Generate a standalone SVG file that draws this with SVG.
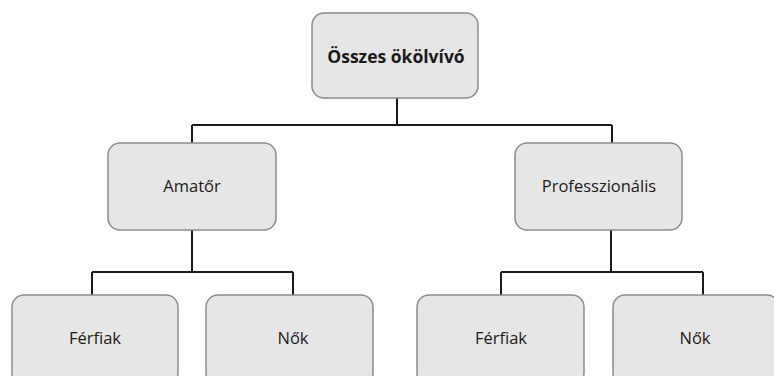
<svg xmlns="http://www.w3.org/2000/svg" width="774" height="376" viewBox="0 0 774 376">
<style>
.box{fill:#e6e6e6;stroke:#8c8c8c;stroke-width:1.5}
.lbl{font-family:"Open Sans","Liberation Sans",sans-serif;font-size:16.5px;fill:#1a1a1a;text-anchor:middle}
.b{font-weight:bold;font-size:17.5px}
.c{fill:none;stroke:#1a1a1a;stroke-width:2}
</style>
<rect width="774" height="376" fill="#fff"/>
<g id="connectors">
<path class="c" d="M397 98V125M192 125H612M192 125V143M612 125V143"/>
<path class="c" d="M192 230V272M92 272H293M92 272V295M293 272V295"/>
<path class="c" d="M611 230V272M501 272H703M501 272V295M703 272V295"/>
</g>
<g id="root"><rect class="box" x="312" y="13" width="166" height="85" rx="12"/><text class="lbl b" x="396" y="63">Összes ökölvívó</text></g>
<g id="amator"><rect class="box" x="108" y="143" width="168" height="87" rx="12"/><text class="lbl" x="192" y="192">Amatőr</text></g>
<g id="prof"><rect class="box" x="515" y="143" width="167" height="87" rx="12"/><text class="lbl" x="599" y="192">Professzionális</text></g>
<g id="a-ferfiak"><rect class="box" x="12" y="295" width="166" height="90" rx="12"/><text class="lbl" x="95" y="344">Férfiak</text></g>
<g id="a-nok"><rect class="box" x="206" y="295" width="167" height="90" rx="12"/><text class="lbl" x="293" y="344">Nők</text></g>
<g id="p-ferfiak"><rect class="box" x="417" y="295" width="167" height="90" rx="12"/><text class="lbl" x="501" y="344">Férfiak</text></g>
<g id="p-nok"><rect class="box" x="613" y="295" width="166" height="90" rx="12"/><text class="lbl" x="695" y="344">Nők</text></g>
</svg>
